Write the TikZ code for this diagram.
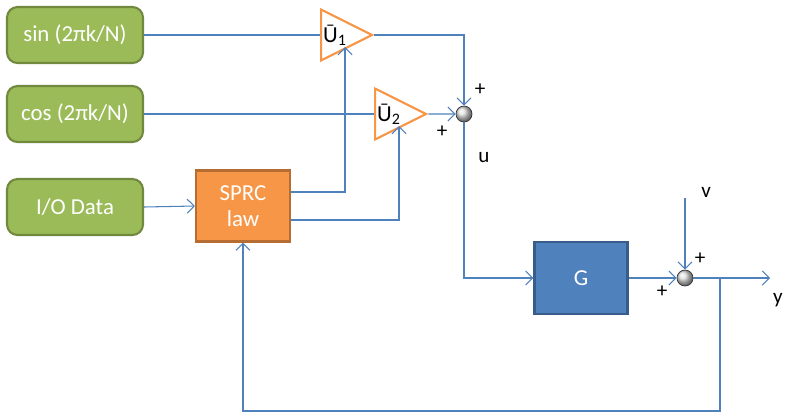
\documentclass[tikz,border=0pt]{standalone}
\usepackage{fontspec}
\setmainfont{Carlito}
\usepackage{xcolor}
\definecolor{srcgreen}{HTML}{9BBB59}
\definecolor{srcgreenline}{HTML}{71893F}
\definecolor{lawor}{HTML}{F79646}
\definecolor{laworline}{HTML}{B66D31}
\definecolor{plantblue}{HTML}{4F81BD}
\definecolor{plantline}{HTML}{385D8A}
\usetikzlibrary{shapes.geometric,arrows.meta,positioning,calc}

\begin{document}
\begin{tikzpicture}[x=0.02cm,y=-0.02cm,
      src/.style={draw=srcgreenline, line width=1.2pt, rounded corners=6pt, fill=srcgreen, text=white, font=\fontsize{13}{15}\selectfont, minimum width=2.72cm, minimum height=1.12cm},
      blk/.style={draw, line width=1.2pt, text=white, align=center, font=\fontsize{13}{15}\selectfont},
      gain/.style={draw=lawor, line width=1.2pt, fill=white, isosceles triangle, isosceles triangle apex angle=53, minimum height=1.02cm, inner sep=0pt, font=\fontsize{13}{15}\selectfont},
      summ/.style={circle, draw=black!80, thin, shading=ball, ball color=gray!25, minimum size=0.32cm, inner sep=0pt},
      sig/.style={draw=plantblue, line width=0.6pt},
      arr/.style={sig, -{Straight Barb[length=4pt,width=8pt]}},
      sgn/.style={font=\fontsize{12}{14}\selectfont}
    ]
    \useasboundingbox (0,0) rectangle (786,413);
    \node[src] (sin) at (75,35) {sin (2πk/N)};
    \node[src] (cos) at (75,114) {cos (2πk/N)};
    \node[src] (io) at (75,207) {I/O Data};
    \node[blk, draw=laworline, fill=lawor, minimum width=1.88cm, minimum height=1.42cm] (law) at (243,206) {SPRC\\law};
    \node[gain, anchor=west] (u1) at (320,35) {Ū\textsubscript{1}};
    \node[gain, anchor=west] (u2) at (374,114) {Ū\textsubscript{2}};
    \node[summ] (s1) at (464,114) {};
    \node[blk, draw=plantline, fill=plantblue, minimum width=1.86cm, minimum height=1.44cm] (g) at (581,278) {G};
    \node[summ] (s2) at (685,278) {};
    \coordinate (vin) at (685,198);
    \coordinate (yout) at (770,278);
    \coordinate (tap) at (720,278);
    \node[sgn] (p1) at (480,90) {+};
    \node[sgn] (p2) at (442,132) {+};
    \node[sgn] (ul) at (484,158) {u};
    \node[sgn] (vl) at (706,192) {v};
    \node[sgn] (p3) at (700,259) {+};
    \node[sgn] (p4) at (662,292) {+};
    \node[sgn] (yl) at (778,300) {y};
    \draw[sig] (sin.east) -- (u1.west);
    \draw[arr] (u1.apex) -| (s1.north);
    \draw[sig] (cos.east) -- (u2.west);
    \draw[arr] (u2.apex) -- (s1.west);
    \draw[arr] (io.east) -- (law.west);
    \draw[arr] ($(law.east)+(0,-14)$) -| ($(u1.west)+(25,12)$);
    \draw[arr] ($(law.east)+(0,14)$) -| ($(u2.west)+(25,12)$);
    \draw[arr] (s1.south) |- (g.west);
    \draw[arr] (g.east) -- (s2.west);
    \draw[arr] (vin) -- (s2.north);
    \draw[arr] (s2.east) -- (yout);
    \draw[arr] (tap) -- ++(0,133) -| (law.south);
  \end{tikzpicture}
\end{document}
